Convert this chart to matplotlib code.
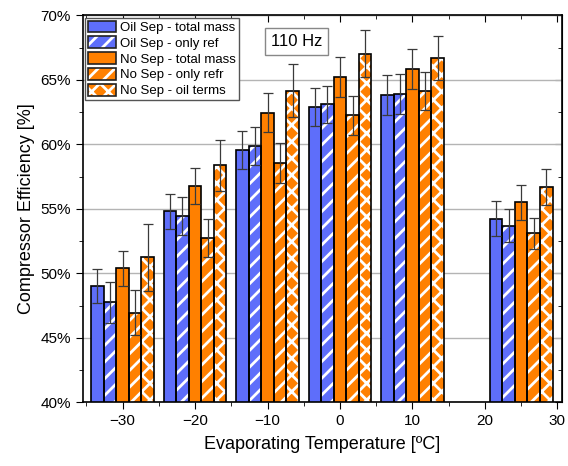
from matplotlib import pyplot as plt
from matplotlib.patches import Patch
from matplotlib.legend_handler import HandlerTuple
import numpy as np

# evaporating temperature of each group
temps = [-30, -20, -10, 0, 10, 25]

labels = ['Oil Sep - total mass', 'Oil Sep - only ref', 'No Sep - total mass',
          'No Sep - only refr', 'No Sep - oil terms']

# efficiency [%]
oil_total = [49.0, 54.8, 59.55, 62.9, 63.8, 54.25]
oil_ref = [47.75, 54.45, 59.85, 63.1, 63.87, 53.7]
nosep_total = [50.4, 56.77, 62.45, 65.22, 65.84, 55.5]
nosep_ref = [46.95, 52.75, 58.55, 62.25, 64.13, 53.1]
nosep_oil = [51.25, 58.37, 64.17, 67.02, 66.69, 56.69]

# error bars [%]
err_oil_total = [1.3, 1.35, 1.45, 1.48, 1.55, 1.35]
err_oil_ref = [1.6, 1.45, 1.47, 1.43, 1.55, 1.25]
err_nosep_total = [1.35, 1.42, 1.5, 1.55, 1.57, 1.35]
err_nosep_ref = [1.75, 1.5, 1.52, 1.5, 1.5, 1.2]
err_nosep_oil = [2.6, 2.0, 2.04, 1.82, 1.7, 1.42]

series = [oil_total, oil_ref, nosep_total, nosep_ref, nosep_oil]
errors = [err_oil_total, err_oil_ref, err_nosep_total, err_nosep_ref, err_nosep_oil]

blue = '#5e6efa'
orange = '#ff8000'
colors = [blue, blue, orange, orange, orange]
hatches = [None, '//', None, '//', 'xx']

plt.rcParams['font.family'] = ['Liberation Sans', 'DejaVu Sans']
plt.rcParams['hatch.linewidth'] = 2.0

fig = plt.figure(figsize=(5.68, 4.66), dpi=100)
ax = fig.add_axes([0.1456, 0.1367, 0.8434, 0.8303])

w = 1.73
x = np.array(temps, dtype=float)
handles = []
for k, (vals, errs) in enumerate(zip(series, errors)):
    pos = x + (k - 2) * w
    # fill + white hatch, then black outline on top
    ax.bar(pos, vals, w, color=colors[k], hatch=hatches[k], edgecolor='white',
           linewidth=0, zorder=2)
    ax.bar(pos, vals, w, fill=False, edgecolor='black', linewidth=1.2, zorder=3)
    ax.errorbar(pos, vals, yerr=errs, fmt='none', ecolor='#3a3a3a',
                elinewidth=0.9, capsize=3.5, capthick=0.9, zorder=4)
    handles.append((Patch(facecolor=colors[k], hatch=hatches[k], edgecolor='white', lw=0),
                    Patch(fill=False, edgecolor='#222222', lw=1.2)))

ax.set_xlim(-35.5, 30.6)
ax.set_ylim(40, 70)
ax.set_xticks([-30, -20, -10, 0, 10, 20, 30])
ax.set_xticks(np.arange(-35, 31, 10), minor=True)
ax.set_yticks(np.arange(40, 71, 5))
ax.set_yticklabels(['%d%%' % v for v in range(40, 71, 5)])
ax.set_yticks(np.arange(42.5, 70, 5), minor=True)

ax.grid(axis='y', color='#b4b4b4', linewidth=1.0, zorder=0)
ax.set_axisbelow(True)

ax.tick_params(which='both', direction='out', labelsize=11, top=False, right=False)
ax.tick_params(which='major', length=5)
ax.tick_params(which='minor', length=3)
# inward ticks on top and right
sec_x = ax.secondary_xaxis('top')
sec_x.set_xticks([-30, -20, -10, 0, 10, 20, 30])
sec_x.set_xticks(np.arange(-35, 31, 10), minor=True)
sec_x.tick_params(which='both', direction='in', labeltop=False)
sec_x.tick_params(which='major', length=5)
sec_x.tick_params(which='minor', length=3)
sec_y = ax.secondary_yaxis('right')
sec_y.set_yticks(np.arange(40, 71, 5))
sec_y.set_yticks(np.arange(42.5, 70, 5), minor=True)
sec_y.tick_params(which='both', direction='in', labelright=False)
sec_y.tick_params(which='major', length=5)
sec_y.tick_params(which='minor', length=3)

for s in ax.spines.values():
    s.set_linewidth(1.2)

ax.set_xlabel('Evaporating Temperature [ºC]', fontsize=13, labelpad=6)
ax.set_ylabel('Compressor Efficiency [%]', fontsize=13, labelpad=4)

leg = ax.legend(handles, labels, handler_map={tuple: HandlerTuple(ndivide=1, pad=0)},
                loc='upper left', fontsize=9.5, fancybox=False, edgecolor='#555555',
                framealpha=1, borderpad=0.2, labelspacing=0.18, handlelength=2.1,
                handleheight=1.0, handletextpad=0.35, borderaxespad=0.2)
leg.get_frame().set_linewidth(1.0)

ax.text(0.447, 0.932, '110 Hz', transform=ax.transAxes, ha='center', va='center',
        fontsize=12, bbox=dict(boxstyle='square,pad=0.35', facecolor='white',
                               edgecolor='#888888', linewidth=1.0), zorder=5)

plt.savefig('out.png', dpi=100)
